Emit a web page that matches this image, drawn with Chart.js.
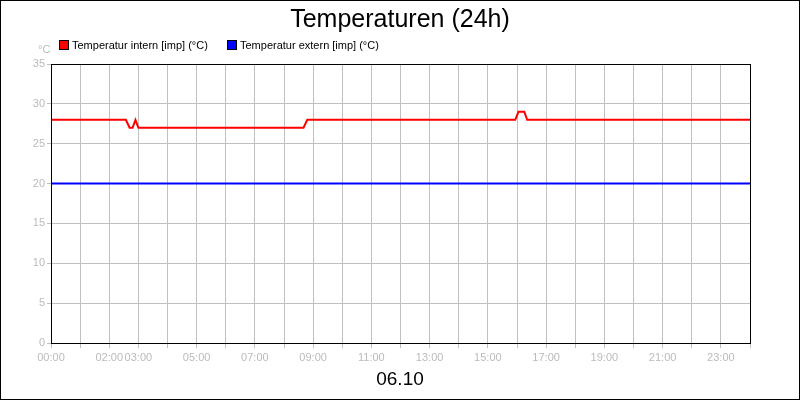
<!DOCTYPE html>
<html>
<head>
<meta charset="utf-8">
<script src="https://cdn.jsdelivr.net/npm/chart.js@4"></script>
<style>
  body { margin: 0; }
  #wrap { position: relative; width: 800px; height: 400px; box-sizing: border-box; border: 1px solid #000; background: #fff; font-family: "Liberation Sans", Arial, sans-serif; }
  canvas { position: absolute; left: 0; top: 0; }
  .txt { position: absolute; white-space: nowrap; }
  .box { display: inline-block; width: 8px; height: 8px; border: 1px solid #000; vertical-align: -1px; margin-right: 3px; }
</style>
</head>
<body>
<div id="wrap">
  <canvas id="myChart" width="798" height="398"></canvas>
  <div class="txt" style="left:0;width:798px;text-align:center;top:3px;font-size:25px;">Temperaturen (24h)</div>
  <div class="txt" style="left:58px;top:38px;font-size:11px;"><span class="box" style="background:#f00"></span>Temperatur intern [imp] (°C)</div>
  <div class="txt" style="left:226px;top:38px;font-size:11px;"><span class="box" style="background:#00f"></span>Temperatur extern [imp] (°C)</div>
  <div class="txt" style="left:37px;top:42px;font-size:11px;color:#bbb;">°C</div>
  <div class="txt" style="left:0;width:798px;text-align:center;top:367px;font-size:19px;">06.10</div>
</div>
<script>
const internHours = [0, 2.57, 2.7, 2.8, 2.9, 3.0, 8.67, 8.8, 15.94, 16.05, 16.25, 16.35, 24];
const internTemps = [28, 28, 27, 27, 28, 27, 27, 28, 28, 29, 29, 28, 28];
const externHours = [0, 24];
const externTemps = [20, 20];
const tickHours = [0, 2, 3, 5, 7, 9, 11, 13, 15, 17, 19, 21, 23];

function pts(xs, ys) { return xs.map((x, i) => ({ x: x, y: ys[i] })); }

const frame = {
  id: "frame",
  afterDraw(chart) {
    const a = chart.chartArea, c = chart.ctx;
    c.save();
    c.strokeStyle = "#000";
    c.lineWidth = 1;
    c.strokeRect(a.left + 0.5, a.top + 0.5, a.right - a.left, a.bottom - a.top);
    c.restore();
  }
};

new Chart(document.getElementById("myChart"), {
  type: "line",
  data: {
    datasets: [
      { data: pts(internHours, internTemps), borderColor: "#f00", borderWidth: 2, pointRadius: 0, tension: 0 },
      { data: pts(externHours, externTemps), borderColor: "#00f", borderWidth: 2, pointRadius: 0, tension: 0 }
    ]
  },
  options: {
    responsive: false,
    animation: false,
    layout: { padding: { top: 63, right: 49, left: 0, bottom: 0 } },
    plugins: { legend: { display: false }, tooltip: { enabled: false } },
    scales: {
      x: {
        type: "linear", min: 0, max: 24,
        afterFit(s) { s.height = 56; },
        afterBuildTicks(s) { s.ticks = Array.from({ length: 25 }, (_, i) => ({ value: i })); },
        ticks: {
          autoSkip: false, maxRotation: 0, color: "#bbb", font: { size: 11, family: "Liberation Sans" },
          callback: v => tickHours.includes(v) ? String(v).padStart(2, "0") + ":00" : ""
        },
        grid: { color: "#c0c0c0", tickLength: 5 },
        border: { color: "#000" }
      },
      y: {
        min: 0, max: 35,
        afterFit(s) { s.width = 50; },
        ticks: { stepSize: 5, color: "#bbb", font: { size: 11, family: "Liberation Sans" }, padding: 2 },
        grid: { color: "#c0c0c0", tickLength: 4 },
        border: { color: "#000" }
      }
    }
  },
  plugins: [frame]
});
</script>
</body>
</html>
